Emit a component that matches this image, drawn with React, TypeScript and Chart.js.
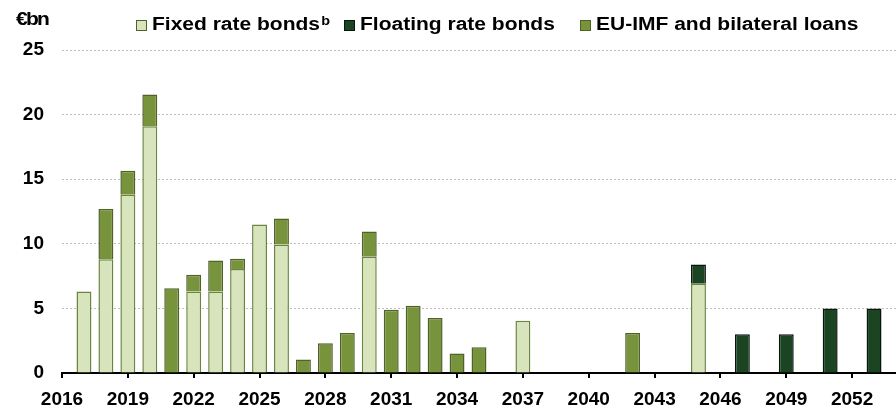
import React, { useEffect, useRef } from 'react';
import { Chart, registerables } from 'chart.js';

Chart.register(...registerables);

const years = [
  '2016', '2017', '2018', '2019', '2020', '2021', '2022', '2023', '2024', '2025',
  '2026', '2027', '2028', '2029', '2030', '2031', '2032', '2033', '2034', '2035',
  '2036', '2037', '2038', '2039', '2040', '2041', '2042', '2043', '2044', '2045',
  '2046', '2047', '2048', '2049', '2050', '2051', '2052', '2053', '2054',
];

const shownTicks = ['2016', '2019', '2022', '2025', '2028', '2031', '2034', '2037', '2040', '2043', '2046', '2049', '2052'];

const fixedRate = [
  null, 6.3, 8.8, 13.8, 19.1, null, 6.3, 6.3, 8.05, 11.5,
  9.95, null, null, null, 9.0, null, null, null, null, null,
  null, 4.05, null, null, null, null, null, null, null, 6.9,
  null, null, null, null, null, null, null, null, null,
];

const floatingRate = [
  null, null, null, null, null, null, null, null, null, null,
  null, null, null, null, null, null, null, null, null, null,
  null, null, null, null, null, null, null, null, null, 1.5,
  null, 3.0, null, 3.0, null, 5.0, null, 5.0, null,
];

const euImfLoans = [
  null, null, 3.9, 1.85, 2.45, 6.55, 1.3, 2.4, 0.8, null,
  2.0, 1.05, 2.3, 3.1, 1.95, 4.9, 5.2, 4.25, 1.5, 2.0,
  null, null, null, null, null, null, 3.1, null, null, null,
  null, null, null, null, null, null, null, null, null,
];

const yTicks = [0, 5, 10, 15, 20, 25];

const FONT = '"Liberation Sans", Arial, Helvetica, sans-serif';

const legendText: React.CSSProperties = {
  position: 'absolute',
  top: 16,
  fontFamily: FONT,
  fontWeight: 'bold',
  fontSize: 17.5,
  lineHeight: '17.5px',
  color: '#000',
  whiteSpace: 'nowrap',
  transform: 'scaleX(1.2)',
  transformOrigin: 'left top',
};

const box = (left: number, bg: string, border: string): React.CSSProperties => ({
  position: 'absolute',
  left,
  top: 20,
  width: 9,
  height: 9,
  background: bg,
  border: `1px solid ${border}`,
});

export default function App() {
  const ref = useRef<HTMLCanvasElement>(null);

  useEffect(() => {
    const font = { family: FONT, size: 19, weight: 'bold' as const };
    const common = { stack: 's', barPercentage: 0.68, categoryPercentage: 1, borderWidth: 1.5 };
    const chart = new Chart(ref.current!, {
      type: 'bar',
      data: {
        labels: years,
        datasets: [
          { label: 'Fixed rate bonds', data: fixedRate, backgroundColor: '#D8E4BC', borderColor: '#6A8540', ...common },
          { label: 'Floating rate bonds', data: floatingRate, backgroundColor: '#1A4422', borderColor: '#0A160B', ...common },
          { label: 'EU-IMF and bilateral loans', data: euImfLoans, backgroundColor: '#77933C', borderColor: '#4F6228', ...common },
        ],
      },
      options: {
        animation: false,
        responsive: false,
        maintainAspectRatio: false,
        layout: { padding: { top: 50, right: 0, left: 0, bottom: 0 } },
        plugins: { legend: { display: false }, tooltip: { enabled: false } },
        scales: {
          x: {
            stacked: true,
            offset: false,
            grid: {
              offset: false,
              drawOnChartArea: false,
              drawTicks: true,
              tickLength: 5,
              lineWidth: 2,
              color: (ctx: any) => (shownTicks.includes(years[ctx.index]) ? '#000' : 'rgba(0,0,0,0)'),
            },
            border: { color: '#000', width: 2 },
            ticks: {
              autoSkip: false,
              maxRotation: 0,
              padding: 10,
              color: '#000',
              font,
              callback: (_v: any, i: number) => (shownTicks.includes(years[i]) ? years[i] : ''),
            },
            afterFit: (s: any) => {
              s.height = 40;
              s.paddingLeft = 0;
              s.paddingRight = 0;
            },
          },
          y: {
            stacked: true,
            min: yTicks[0],
            max: yTicks[yTicks.length - 1],
            afterBuildTicks: (s: any) => {
              s.ticks = yTicks.map((v) => ({ value: v }));
            },
            ticks: { padding: 18, color: '#000', font },
            grid: {
              drawTicks: false,
              lineWidth: 1,
              color: (ctx: any) => (ctx.tick && ctx.tick.value === 0 ? 'rgba(0,0,0,0)' : '#BEBEBE'),
            },
            border: { display: false, dash: [2, 2] },
            afterFit: (s: any) => {
              s.width = 62;
            },
          },
        },
      },
    });
    return () => chart.destroy();
  }, []);

  return (
    <div style={{ position: 'fixed', left: 0, top: 0, width: 896, height: 413, background: '#fff' }}>
      <canvas ref={ref} width={896} height={413} style={{ position: 'absolute', left: 0, top: 0, width: 896, height: 413 }} />
      <div style={{ ...legendText, left: 16, top: 11, letterSpacing: -1.5 }}>€bn</div>
      <div style={box(136, '#D8E4BC', '#4F6228')} />
      <div style={{ ...legendText, left: 152 }}>
        Fixed rate bonds<span style={{ fontSize: 12, position: 'relative', top: -5, marginLeft: 1 }}>b</span>
      </div>
      <div style={box(344, '#1A4422', '#0A160B')} />
      <div style={{ ...legendText, left: 360 }}>Floating rate bonds</div>
      <div style={box(580, '#77933C', '#4F6228')} />
      <div style={{ ...legendText, left: 596 }}>EU-IMF and bilateral loans</div>
    </div>
  );
}
